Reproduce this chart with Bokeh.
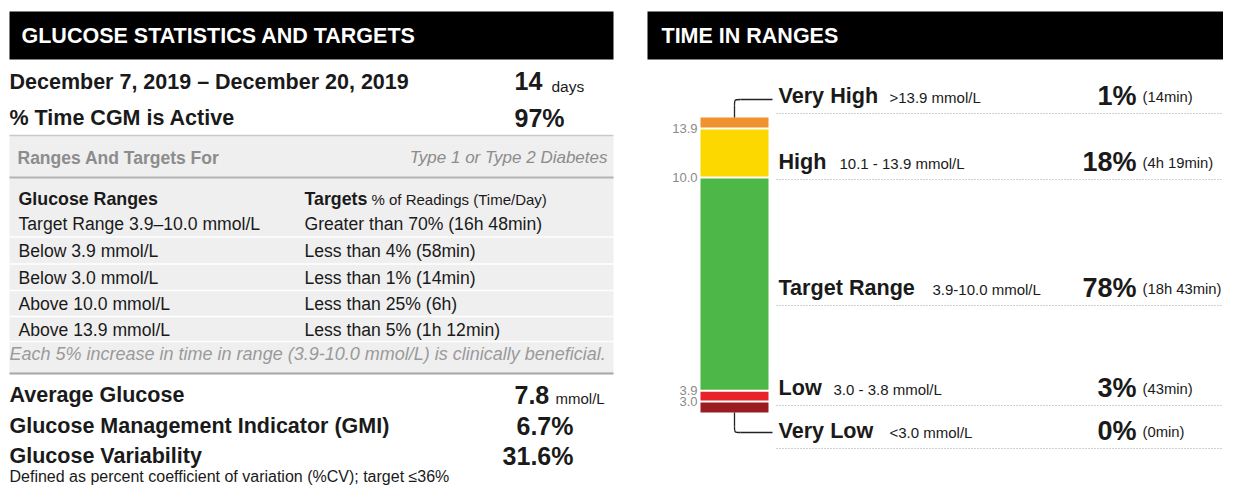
from bokeh.plotting import figure
from bokeh.models import Range1d
from bokeh.embed import file_html
from bokeh.resources import INLINE
from bokeh.core.properties import value

# ---------------- data ----------------
panel_titles = ["GLUCOSE STATISTICS AND TARGETS", "TIME IN RANGES"]
period_text = "December 7, 2019 – December 20, 2019"
period_days = "14"
period_unit = "days"
cgm_label = "% Time CGM is Active"
cgm_active = "97%"
targets_for_label = "Ranges And Targets For"
targets_for = "Type 1 or Type 2 Diabetes"
table_head = ["Glucose Ranges", "Targets", "% of Readings (Time/Day)"]
range_labels = ["Target Range 3.9–10.0 mmol/L", "Below 3.9 mmol/L", "Below 3.0 mmol/L",
                "Above 10.0 mmol/L", "Above 13.9 mmol/L"]
range_targets = ["Greater than 70% (16h 48min)", "Less than 4% (58min)", "Less than 1% (14min)",
                 "Less than 25% (6h)", "Less than 5% (1h 12min)"]
note_text = "Each 5% increase in time in range (3.9-10.0 mmol/L) is clinically beneficial."
stat_labels = ["Average Glucose", "Glucose Management Indicator (GMI)", "Glucose Variability"]
stat_values = ["7.8", "6.7%", "31.6%"]
stat_units = ["mmol/L", "", ""]
cv_note = "Defined as percent coefficient of variation (%CV); target ≤36%"

tir_names = ["Very High", "High", "Target Range", "Low", "Very Low"]
tir_ranges = [">13.9 mmol/L", "10.1 - 13.9 mmol/L", "3.9-10.0 mmol/L", "3.0 - 3.8 mmol/L", "<3.0 mmol/L"]
tir_pct = [1, 18, 78, 3, 0]
tir_time = ["(14min)", "(4h 19min)", "(18h 43min)", "(43min)", "(0min)"]
tir_thresholds = ["13.9", "10.0", "3.9", "3.0"]

# ---------------- style / layout ----------------
FONT = value("Liberation Sans")
INK = "#1a1a1a"
GREY = "#8c8c8c"
tir_colors = ["#f0922e", "#fcd700", "#4db848", "#e8222a", "#9a1c20"]
W, H = 1223, 485

p = figure(width=W, height=H, x_range=Range1d(0, W), y_range=Range1d(H, 0),
           output_backend="svg", toolbar_location=None, min_border=0,
           x_axis_location=None, y_axis_location=None)
p.grid.visible = False
p.outline_line_color = None
p.background_fill_color = "white"


def txt(x, y, t, size, bold=False, italic=False, color=INK, align="left"):
    style = "normal"
    if bold and italic:
        style = "bold italic"
    elif bold:
        style = "bold"
    elif italic:
        style = "italic"
    xs = x if isinstance(x, list) else [x]
    ys = y if isinstance(y, list) else [y]
    ts = t if isinstance(t, list) else [t]
    p.text(x=xs, y=ys, text=ts, text_font=FONT, text_font_size=f"{size}px",
           text_font_style=style, text_baseline="middle", text_align=align, text_color=color)


# ---------- headers ----------
p.quad(left=[9, 647], right=[613, W + 5], top=[11, 11], bottom=[59, 59],
       fill_color="black", line_color=None)
txt([21, 661], [35, 35], panel_titles, 21.5, bold=True, color="white")

# ---------- left panel ----------
txt(9, 81, period_text, 21.5, bold=True)
txt(514, 80, period_days, 25, bold=True)
txt(551, 86, period_unit, 15.5)
txt(9, 117, cgm_label, 21.5, bold=True)
txt(514, 117, cgm_active, 25, bold=True)

# grey targets box
p.quad(left=[9], right=[613], top=[135], bottom=[373], fill_color="#efefef", line_color=None)
p.segment(x0=[9], x1=[613], y0=[135], y1=[135], line_color="#c9c9c9", line_width=1.5)
p.segment(x0=[9], x1=[613], y0=[177], y1=[177], line_color="#b3b3b3", line_width=2)
p.segment(x0=[9], x1=[613], y0=[373], y1=[373], line_color="#a6a6a6", line_width=2)
row_y = [223, 250, 277, 303, 329]
sep_y = [(row_y[i] + row_y[i + 1]) / 2 for i in range(len(row_y) - 1)] + [row_y[-1] + 12]
p.segment(x0=[9] * len(sep_y), x1=[613] * len(sep_y), y0=sep_y, y1=sep_y,
          line_color="white", line_width=1.5)

txt(17, 157, targets_for_label, 17.5, bold=True, color=GREY)
txt(607, 157, targets_for, 17, italic=True, color=GREY, align="right")
txt(18, 198, table_head[0], 17.8, bold=True)
txt(304, 198, table_head[1], 17.8, bold=True)
txt(371, 199, table_head[2], 15)
txt([18] * len(range_labels), row_y, range_labels, 17.6)
txt([304] * len(range_targets), row_y, range_targets, 17.6)
txt(9, 353, note_text, 18, italic=True, color="#9a9a9a")

stat_y = [394, 425, 455]
txt([9] * 3, stat_y, stat_labels, 21.5, bold=True)
txt(514, stat_y[0], stat_values[0], 25, bold=True)
txt(555, stat_y[0] + 4, stat_units[0], 15)
txt([573, 573], stat_y[1:], stat_values[1:], 25, bold=True, align="right")
txt(9, 476, cv_note, 16)

# ---------- right panel: stacked bar ----------
BAR_L, BAR_R = 700, 768
BAR_TOP, BAR_BOT = 117, 412
MIN_SEG = 4
disp = [max(v, MIN_SEG) for v in tir_pct]
scale = (BAR_BOT - BAR_TOP) / sum(disp)
tops, bots = [], []
acc = BAR_TOP
for d in disp:
    tops.append(acc)
    acc += d * scale
    bots.append(acc)
n = len(disp)
seg_top = [t + (1 if i > 0 else 0) for i, t in enumerate(tops)]
seg_bot = [b - (1 if i < n - 1 else 0) for i, b in enumerate(bots)]
p.quad(left=[BAR_L] * n, right=[BAR_R] * n, top=seg_top, bottom=seg_bot,
       fill_color=tir_colors, line_color=None)

# threshold labels at segment boundaries
txt([697] * len(tir_thresholds), bots[:4], tir_thresholds, 13, color="#8a8a8a", align="right")

# connectors
cx = (BAR_L + BAR_R) / 2
p.line([cx, cx], [tops[0], 105], line_color="#222222", line_width=1.3)
p.bezier(x0=[cx], y0=[105], x1=[cx + 6], y1=[99], cx0=[cx], cy0=[99], cx1=[cx], cy1=[99],
         line_color="#222222", line_width=1.3)
p.line([cx + 6, 772], [99, 99], line_color="#222222", line_width=1.3)
p.line([cx, cx], [bots[-1], 426], line_color="#222222", line_width=1.3)
p.bezier(x0=[cx], y0=[426], x1=[cx + 6], y1=[432], cx0=[cx], cy0=[432], cx1=[cx], cy1=[432],
         line_color="#222222", line_width=1.3)
p.line([cx + 6, 772], [432, 432], line_color="#222222", line_width=1.3)

# row labels
lab_y = [95, 161, 287, 387, 430]
dot_y = [113, 179, 305, 405, 448]
sub_x = [889, 839, 932, 833, 889]
txt([778] * n, lab_y, tir_names, 21.6, bold=True)
txt(sub_x, [y + 2 for y in lab_y], tir_ranges, 15)
txt([1136] * n, lab_y, [f"{v}%" for v in tir_pct], 27, bold=True, align="right")
txt([1142] * n, [y + 1 for y in lab_y], tir_time, 14.8)
p.segment(x0=[776] * n, x1=[W + 5] * n, y0=dot_y, y1=dot_y,
          line_color="#a0a0a0", line_width=1, line_dash="1 2")

open("out.html", "w").write(file_html(p, INLINE))
